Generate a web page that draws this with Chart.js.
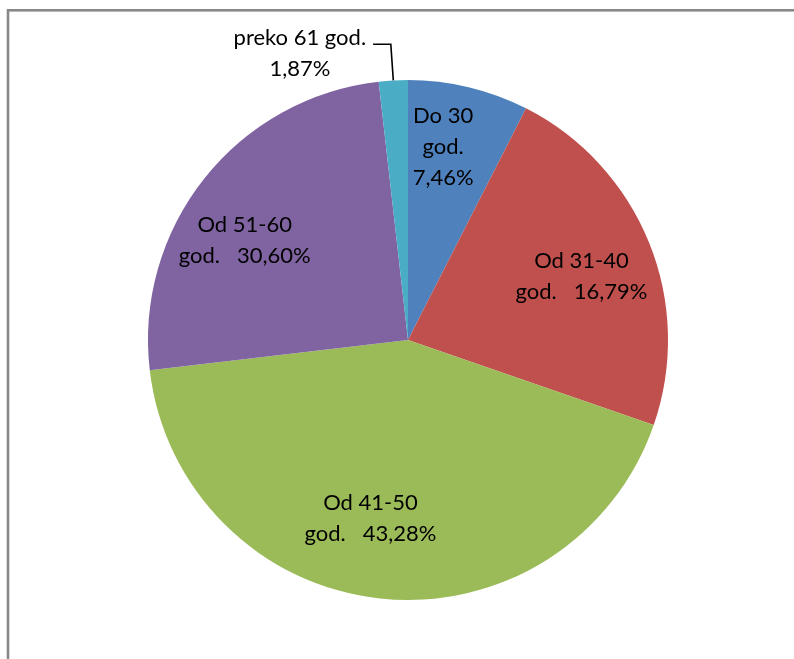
<!DOCTYPE html>
<html>
<head>
<meta charset="utf-8">
<script src="https://cdn.jsdelivr.net/npm/chart.js@4"></script>
<style>
  html, body { margin: 0; padding: 0; background: #ffffff; }
  #wrap { width: 794px; height: 659px; position: relative; }
</style>
</head>
<body>
<div id="wrap"><canvas id="c" width="794" height="659"></canvas></div>
<script>
// ---- data ----
const categories = ['Do 30 god.', 'Od 31-40 god.', 'Od 41-50 god.', 'Od 51-60 god.', 'preko 61 god.'];
// slice sizes as drawn in the picture (percent of the full circle)
const sliceShares = [7.5, 22.8, 42.85, 25.05, 1.8];
// percentages printed in the data labels
const printedShares = ['7,46%', '16,79%', '43,28%', '30,60%', '1,87%'];
const labelLines = [
  ['Do 30', 'god.', '{v}'],
  ['Od 31-40', 'god.   {v}'],
  ['Od 41-50', 'god.   {v}'],
  ['Od 51-60', 'god.   {v}'],
  ['preko 61 god.', '{v}']
];
const sliceColors = ['#4F81BD', '#C0504D', '#9BBB59', '#8064A2', '#4BACC6'];

// ---- label placement (polar, relative to pie centre; degrees clockwise from top, fraction of radius) ----
const labelPlace = [
  { deg: 10.3, frac: 0.755 },
  { deg: 70.0, frac: 0.71 },
  { deg: 191.9, frac: 0.70 },
  { deg: 301.3, frac: 0.735 },
  { deg: 339.3, frac: 1.177, leader: true }
];

const frame = {
  id: 'frame',
  beforeDraw(chart) {
    const ctx = chart.ctx;
    ctx.save();
    ctx.fillStyle = '#888888';
    ctx.fillRect(7, 9, chart.width - 7, 2.6);
    ctx.fillRect(6.7, 9, 2.6, chart.height - 9);
    ctx.restore();
  }
};

const sliceLabels = {
  id: 'sliceLabels',
  afterDatasetsDraw(chart) {
    const ctx = chart.ctx;
    const meta = chart.getDatasetMeta(0);
    ctx.save();
    ctx.font = '22px Lato';
    ctx.fillStyle = '#000000';
    ctx.textAlign = 'center';
    ctx.textBaseline = 'middle';
    const lh = 31;
    meta.data.forEach((arc, i) => {
      const p = arc.getProps(['x', 'y', 'outerRadius', 'startAngle', 'endAngle'], true);
      const pl = labelPlace[i];
      const a = pl.deg * Math.PI / 180;
      const cx = p.x + Math.sin(a) * p.outerRadius * pl.frac;
      const cy = p.y - Math.cos(a) * p.outerRadius * pl.frac;
      const lines = labelLines[i].map(s => s.replace('{v}', printedShares[i]));
      const top = cy - (lines.length - 1) * lh / 2;
      lines.forEach((s, k) => ctx.fillText(s, cx, top + k * lh));
      if (pl.leader) {
        const mid = (p.startAngle + p.endAngle) / 2;
        const ex = p.x + Math.cos(mid) * p.outerRadius;
        const ey = p.y + Math.sin(mid) * p.outerRadius;
        const w1 = ctx.measureText(lines[0]).width;
        const lx = cx + w1 / 2 + 7;
        const ly = top + 6;
        ctx.beginPath();
        ctx.strokeStyle = '#000000';
        ctx.lineWidth = 1.6;
        ctx.moveTo(lx, ly);
        ctx.lineTo(ex - 2.5, ly);
        ctx.lineTo(ex, ey);
        ctx.stroke();
      }
    });
    ctx.restore();
  }
};

new Chart(document.getElementById('c'), {
  type: 'pie',
  data: {
    labels: categories,
    datasets: [{
      data: sliceShares,
      backgroundColor: sliceColors,
      borderWidth: 0
    }]
  },
  options: {
    responsive: false,
    animation: false,
    layout: { padding: { left: 148, right: 126, top: 80, bottom: 59 } },
    plugins: {
      legend: { display: false },
      tooltip: { enabled: false }
    }
  },
  plugins: [frame, sliceLabels]
});
</script>
</body>
</html>
